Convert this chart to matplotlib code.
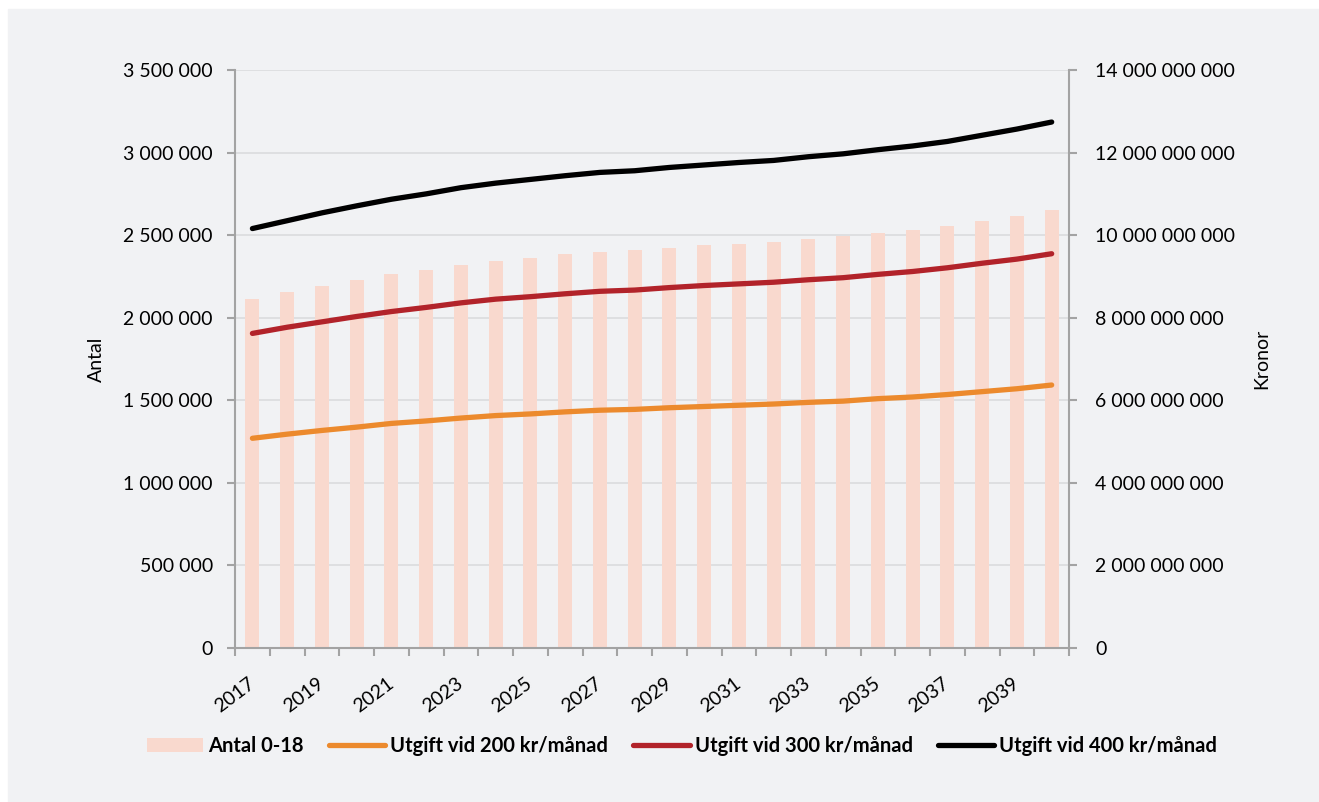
import numpy as np
import matplotlib.pyplot as plt
from matplotlib.ticker import FuncFormatter, MultipleLocator
from matplotlib.patches import Rectangle

plt.rcParams['font.family'] = ['Lato', 'DejaVu Sans']

# data
years = list(range(2017, 2041))
antal = [2116000, 2157000, 2195000, 2231000, 2265000, 2291000, 2322000, 2346000,
         2364000, 2384000, 2400000, 2408000, 2424000, 2438000, 2449000, 2461000,
         2479000, 2493000, 2515000, 2533000, 2557000, 2588000, 2618000, 2654000]
# kronor, in billions
utgift_200 = [5.08, 5.18, 5.27, 5.35, 5.44, 5.50, 5.57, 5.63, 5.67, 5.72, 5.76, 5.78,
              5.82, 5.85, 5.88, 5.91, 5.95, 5.98, 6.04, 6.08, 6.14, 6.21, 6.28, 6.37]
utgift_300 = [7.62, 7.77, 7.90, 8.03, 8.15, 8.25, 8.36, 8.45, 8.51, 8.58, 8.64, 8.67,
              8.73, 8.78, 8.82, 8.86, 8.92, 8.97, 9.05, 9.12, 9.21, 9.32, 9.42, 9.55]
utgift_400 = [10.16, 10.35, 10.54, 10.71, 10.87, 11.00, 11.15, 11.26, 11.35, 11.44, 11.52, 11.56,
              11.64, 11.70, 11.76, 11.81, 11.90, 11.97, 12.07, 12.16, 12.27, 12.42, 12.57, 12.74]

bg = '#f1f2f4'
bar_color = '#f9d9ce'
spine_color = '#a3a3a3'
grid_color = '#dcdde0'
col_200 = '#ec8a2d'
col_300 = '#b2232a'
col_400 = '#000000'


def space_fmt(v, pos):
    return '{:,.0f}'.format(v).replace(',', ' ')


fig = plt.figure(figsize=(13.19, 8.02), dpi=100)
fig.patches.append(Rectangle((8 / 1319, 0), 1, 1 - 9 / 802, transform=fig.transFigure,
                             color=bg, zorder=-10))

ax = fig.add_axes([0.1782, 0.192, 0.6323, 0.7207])
ax.set_facecolor(bg)
x = np.arange(len(years))

bars = ax.bar(x, antal, width=0.4, color=bar_color, zorder=2, label='Antal 0-18')
ax.set_xlim(-0.5, len(years) - 0.5)
ax.set_ylim(0, 3500000)
ax.yaxis.set_major_locator(MultipleLocator(500000))
ax.yaxis.set_major_formatter(FuncFormatter(space_fmt))
ax.grid(axis='y', color=grid_color, lw=1.3, zorder=0)
ax.set_axisbelow(True)

ax.set_xticks(x[::2])
ax.set_xticklabels([str(y) for y in years[::2]], rotation=37, ha='right',
                   va='center', rotation_mode='anchor')
ax.set_xticks(np.arange(-0.5, len(years), 1), minor=True)
ax.tick_params(axis='x', which='major', length=0, pad=24, labelsize=14)
ax.tick_params(axis='x', which='minor', length=6, width=1.5, color=spine_color)
ax.tick_params(axis='y', length=6, width=1.5, color=spine_color, pad=10, labelsize=14)

for s in ['top', 'right']:
    ax.spines[s].set_visible(False)
for s in ['left', 'bottom']:
    ax.spines[s].set_color(spine_color)
    ax.spines[s].set_linewidth(1.5)

ax.set_ylabel('Antal', fontsize=14)
ax.yaxis.set_label_coords(-0.156, 0.5)

# right axis with expenditure lines
ax2 = ax.twinx()
l200, = ax2.plot(x, np.array(utgift_200) * 1e9, color=col_200, lw=3.8,
                 solid_capstyle='round', label='Utgift vid 200 kr/månad')
l300, = ax2.plot(x, np.array(utgift_300) * 1e9, color=col_300, lw=3.8,
                 solid_capstyle='round', label='Utgift vid 300 kr/månad')
l400, = ax2.plot(x, np.array(utgift_400) * 1e9, color=col_400, lw=3.8,
                 solid_capstyle='round', label='Utgift vid 400 kr/månad')
ax2.set_ylim(0, 14e9)
ax2.yaxis.set_major_locator(MultipleLocator(2e9))
ax2.yaxis.set_major_formatter(FuncFormatter(space_fmt))
ax2.tick_params(axis='y', length=6, width=1.5, color=spine_color, pad=13, labelsize=14)
for s in ['top', 'left', 'bottom']:
    ax2.spines[s].set_visible(False)
ax2.spines['right'].set_color(spine_color)
ax2.spines['right'].set_linewidth(1.5)
ax2.set_ylabel('Kronor', fontsize=14)
ax2.yaxis.set_label_coords(1.2206, 0.5)

fig.legend([bars, l200, l300, l400],
           ['Antal 0-18', 'Utgift vid 200 kr/månad', 'Utgift vid 300 kr/månad',
            'Utgift vid 400 kr/månad'],
           loc='center', bbox_to_anchor=(0.517, 0.07), ncol=4, frameon=False,
           prop={'weight': 'bold', 'size': 14.5}, handlelength=2.8,
           handletextpad=0.25, columnspacing=1.25)

fig.savefig('out.png', dpi=100, facecolor='white')
